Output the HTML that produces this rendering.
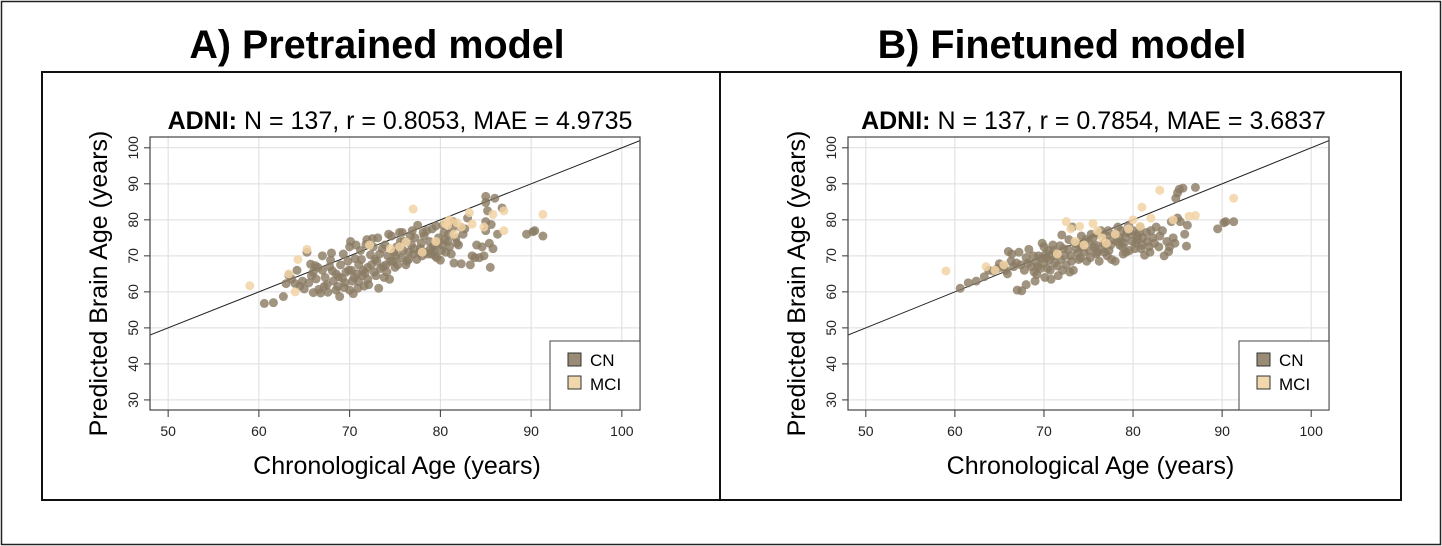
<!DOCTYPE html>
<html><head><meta charset="utf-8"><style>
body{margin:0;background:#fff;}
svg{display:block;font-family:"Liberation Sans",sans-serif;}
</style></head><body>
<svg id="fig" width="1442" height="546" viewBox="0 0 1442 546">
<rect x="1.5" y="1.5" width="1439" height="543" fill="#fff" stroke="#222" stroke-width="1.5"/>
<rect x="42" y="72" width="1359" height="428" fill="none" stroke="#111" stroke-width="2"/>
<line x1="720" y1="72" x2="720" y2="500" stroke="#111" stroke-width="2"/>
<text x="377" y="58" text-anchor="middle" font-size="39.5" font-weight="bold">A) Pretrained model</text>
<text x="1062" y="58" text-anchor="middle" font-size="39.5" font-weight="bold">B) Finetuned model</text>
<g id="pA"></g>
<g id="pB"></g>
</svg>
<script>
const xTicks=[50,60,70,80,90,100];
const yTicks=[30,40,50,60,70,80,90,100];
const titleA=["ADNI:"," N = 137, r = 0.8053, MAE = 4.9735"];
const titleB=["ADNI:"," N = 137, r = 0.7854, MAE = 3.6837"];
const cnA=[[60.6,56.8],[61.6,57],[62.7,58.7],[63,62.3],[63.3,64.6],[63.6,63.6],[64,62.3],[64.2,66],[64.5,61.6],[65,60.8],[65.3,71],[65.5,62.5],[65.7,67.7],[66,59.8],[66,65.5],[66.3,63.6],[66.6,60.7],[66.8,59.7],[67,70],[67,66],[67.3,64],[67.5,62],[67.6,59.9],[67.8,67],[68,70.8],[68.2,63],[68.5,65],[68.7,61.5],[68.9,58.7],[69,67.5],[69.2,63.8],[69.4,61.2],[69.6,65.5],[69.8,68.5],[70,60.5],[70,72.5],[70.1,74],[70.2,66],[70.3,63],[70.4,59.5],[70.6,69.2],[70.8,65],[71,62.8],[71,67.5],[71.2,71.5],[71.4,64.5],[71.6,61.6],[71.8,73.2],[72,66.8],[72,63.5],[72.3,70.3],[72.5,74.8],[72.7,65.5],[73,68.5],[73.2,61],[73.4,66.5],[73.6,72],[73.8,64],[74,67.5],[74.2,70],[74.4,63.5],[74.6,75.5],[74.8,68.5],[75,66.8],[75.2,72.5],[75.5,76.5],[75.7,69.5],[76,74],[76.2,67.5],[76.5,71],[76.8,73],[77,70.5],[77.2,75],[77.5,78.5],[77.8,72],[78,70],[78.3,71],[78.5,77],[78.8,74],[79,70.5],[79.2,72.5],[79.5,78.3],[79.8,75],[80,68.8],[80.2,73],[80.4,76.5],[80.6,71],[80.8,74],[81,72.5],[81.3,77.5],[81.5,68],[81.7,75],[82,73],[82.3,67.8],[82.7,77.5],[83,80.5],[83.3,67.5],[83.5,70],[84,73],[84.3,69.5],[84.6,72.5],[85,86.5],[85,84.8],[85.2,82.5],[85,79.5],[85,77],[85.4,73.5],[85.6,78.7],[85.8,72],[85.5,66.8],[86,86],[86.3,76],[86.8,83.3],[89.5,76],[90.2,76.7],[90.4,77],[91.3,75.5],[71.5,66],[72.8,69],[76.5,69],[79.3,71.5],[68.5,60.5],
[64.8,63],[65.8,64.5],[66.5,66.8],[67.2,61.5],[68.1,65.8],[68.8,64.2],[69.5,62.5],[69.9,66],[70.5,64],[70.9,61],[71.3,69],[71.7,65.3],[72.1,62],[72.4,67.5],[72.9,64.5],[73.3,70.5],[73.7,67],[74.1,65.5],[74.5,68.5],[74.9,71],[75.3,67.5],[75.6,74],[75.9,71.5],[76.3,68.5],[76.7,75.5],[77.1,72],[77.4,69],[77.9,73.5],[78.2,75.5],[78.6,70.5],[78.9,72],[79.4,70],[79.7,73.5],[80.1,71.5],[80.5,74.5],[80.9,76],[81.2,70.5],[81.8,73.5],[82.5,76],[83.8,69.5],[84.8,70],[73.1,75],[74.3,76],[75.8,76.5],[76.9,77],[78.1,76.5],[79.1,77.5],[80.3,78.5],[81.4,79.5],[82.2,78],[70.7,73],[71.9,74.5],[69.3,70.5],[67.9,68.8],[66.2,67.3],[73.9,73],[77.7,70.8],[79.6,69.5],[75.1,70],[72.6,72.5]];
const mciA=[[59,61.7],[63.3,65],[64.3,69],[64,60],[65.3,71.8],[72.2,73],[74.5,72],[77,83],[78,71],[79.5,74],[80.5,79],[81,80],[81.5,76],[82.3,78],[83.2,82],[85.8,81.5],[87,77],[87,82.5],[91.3,81.5],[80.8,78.5],[75.5,72.5],[76.2,73.8],[81.8,79.2],[83.5,78.8],[84.8,78]];
const cnB=[[60.6,61],[61.5,62.5],[62.4,63],[63.3,64.2],[63.8,66],[64.3,65.8],[65,67.8],[65.5,67],[65.9,65],[66,71.2],[66.4,70.5],[66.6,67],[66.9,68],[67.2,71],[67,60.5],[67.5,60.3],[67.8,66],[68,62],[68,69.5],[68.3,71.8],[68.6,67],[68.9,65.5],[69.2,64.8],[69.4,70],[69.6,66.5],[69.8,73.5],[70,68],[70,72.5],[70.1,64],[70.3,69.5],[70.5,71.5],[70.7,66],[71,73],[71.2,68],[71.4,70.3],[71.6,64.5],[71.9,69],[72.2,72],[72.5,67.5],[72.8,74.5],[73,70],[73.3,66],[73.6,72],[73.9,69],[74.2,75.5],[74.5,71],[74.8,68.5],[75,74],[75.3,76],[75.6,72.5],[75.9,70.5],[76.2,68.5],[76.4,77],[76.7,73.5],[77,75.5],[77.3,71.5],[77.6,69],[77.8,74.5],[78,68.5],[78.3,78],[78.5,75],[78.8,72.5],[79,73.5],[79.3,76.5],[79.6,71.5],[79.9,74],[80,77],[80.2,72],[80.5,75.5],[80.8,78],[81,73],[81.3,70.2],[81.5,76.5],[81.8,72.5],[82.2,75],[82.6,78],[82.9,72.5],[83.3,77],[83.5,70],[83.8,74],[84,71.2],[84.3,79.5],[84.5,75],[84.7,73.5],[85,80.5],[85,87.5],[84.8,86],[85.2,88.5],[85.6,88.8],[85.8,76],[86,72.7],[86.1,78.5],[87,89],[89.5,77.5],[90.2,79.2],[90.4,79.5],[91.3,79.5],[69.1,68.3],[72,75.8],[73.2,78],[71,70],[74,73],[76,71],[78.5,73],[80.5,74.5],
[64.8,66.5],[65.7,66],[66.3,68.5],[67.4,67.5],[68.2,68],[68.8,70],[69.3,67],[69.7,69.3],[70.2,70.5],[70.6,68.8],[71.1,71.5],[71.5,67.2],[71.8,72.8],[72.3,70],[72.7,71.8],[73.1,68.5],[73.5,73.5],[73.8,70.8],[74.3,72.5],[74.7,74.5],[75.1,71.5],[75.5,75],[75.8,73],[76.1,76],[76.5,72],[76.9,74],[77.2,77],[77.5,73],[77.9,76],[78.2,74],[78.7,77],[79.1,75],[79.5,78.5],[79.8,76],[80.3,73.5],[80.7,76.5],[81.1,75],[81.6,74],[82,77],[82.4,73.5],[83,75.5],[84.1,72.5],[85.3,79.5],[70.4,66.5],[72.1,66],[74.1,69.5],[76.8,71],[78.9,70.5],[81.9,71],[69,63],[70.8,63.5],[72.9,65.5],[75.2,69.5],[77.1,70],[79.2,71],[80.9,72]];
const mciB=[[59,65.8],[63.5,67],[64.5,66],[65.5,67.5],[72.5,79.5],[73,77.5],[74,78.2],[75.5,79],[76,77],[77,73.5],[78,76],[80,80],[81,83.5],[82,80.5],[83,88.2],[84.5,80],[86.3,81],[87,81.2],[91.3,86],[79.5,77.5],[74.5,73],[71.5,70.5],[73.5,74],[76.5,75],[80.8,78.2]];
const NS="http://www.w3.org/2000/svg";
function mk(p,tag,at,txt){const e=document.createElementNS(NS,tag);for(const k in at)e.setAttribute(k,at[k]);if(txt!==undefined)e.textContent=txt;p.appendChild(e);return e;}
function panel(g,L,R,title,cn,mci){
  const T=137,B=410,x0=48,x1=102,y0=27.2,y1=103;
  const sx=v=>L+(v-x0)/(x1-x0)*(R-L);
  const sy=v=>B-(v-y0)/(y1-y0)*(B-T);
  xTicks.forEach(t=>{const l=mk(g,'line',{x1:sx(t),x2:sx(t),y1:T,y2:B,stroke:'#ddd','stroke-width':1});
    
    const k=mk(g,'line',{x1:sx(t),x2:sx(t),y1:B,y2:B+7,stroke:'#333'});
    
    const s=mk(g,'text',{x:sx(t),y:B+26,'text-anchor':'middle','font-size':14,fill:'#222'},t);
    });
  yTicks.forEach(t=>{const l=mk(g,'line',{x1:L,x2:R,y1:sy(t),y2:sy(t),stroke:'#ddd','stroke-width':1});
    
    const k=mk(g,'line',{x1:L-6,x2:L,y1:sy(t),y2:sy(t),stroke:'#333'});
    
    const s=mk(g,'text',{x:L-12,y:sy(t),'text-anchor':'middle','font-size':14,fill:'#222',transform:`rotate(-90 ${L-12} ${sy(t)})`},t);
    });
  const cl=mk(g,'clipPath',{id:'c'+L});mk(cl,'rect',{x:L,y:T,width:R-L,height:B-T});
  const id=mk(g,'line',{x1:sx(x0),y1:sy(x0),x2:sx(x1),y2:sy(x1),stroke:'#222','stroke-width':1,'clip-path':`url(#c${L})`});
  
  cn.forEach(d=>{const c=mk(g,'circle',{cx:sx(d[0]),cy:sy(d[1]),r:4.5,fill:'#8a7a63','fill-opacity':0.8});
    });
  mci.forEach(d=>{const c=mk(g,'circle',{cx:sx(d[0]),cy:sy(d[1]),r:4.5,fill:'#f2d4a5','fill-opacity':0.85});
    });
  const fr=mk(g,'rect',{x:L,y:T,width:R-L,height:B-T,fill:'none',stroke:'#444','stroke-width':1.2});
  
  const lg=mk(g,'g',{});
  
  mk(lg,'rect',{x:R-90,y:341,width:90,height:69,fill:'#fff',stroke:'#444'});
  mk(lg,'rect',{x:R-72,y:353,width:13,height:13,fill:'#9a8b76',stroke:'#333'});
  mk(lg,'text',{x:R-50,y:366,'font-size':17},'CN');
  mk(lg,'rect',{x:R-72,y:376,width:13,height:13,fill:'#f2d7ad',stroke:'#333'});
  mk(lg,'text',{x:R-50,y:390,'font-size':17},'MCI');
  const tt=mk(g,'text',{x:(L+R)/2+5,y:129,'text-anchor':'middle','font-size':25});
  
  mk(tt,'tspan',{'font-weight':'bold'},title[0]);mk(tt,'tspan',{},title[1]);
  const xl=mk(g,'text',{x:(L+R)/2+2,y:474,'text-anchor':'middle','font-size':25},'Chronological Age (years)');
  
  const yl=mk(g,'text',{x:L-43,y:(T+B)/2+10,'text-anchor':'middle','font-size':25,transform:`rotate(-90 ${L-43} ${(T+B)/2+10})`},'Predicted Brain Age (years)');
  
}
panel(document.getElementById('pA'),150,640,titleA,cnA,mciA);
panel(document.getElementById('pB'),848,1329,titleB,cnB,mciB);
</script>
</body></html>
